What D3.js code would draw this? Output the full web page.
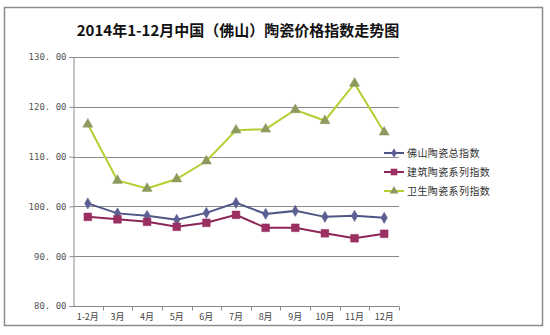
<!DOCTYPE html>
<html>
<head>
<meta charset="utf-8">
<script src="https://cdn.jsdelivr.net/npm/d3@7"></script>
<style>
  html, body { margin: 0; padding: 0; background: #fff; }
  svg { display: block; }
</style>
</head>
<body>
<svg id="chart" width="550" height="335"></svg>
<script>
// Months (Jan and Feb combined)
const months = ["1-2月", "3月", "4月", "5月", "6月", "7月", "8月", "9月", "10月", "11月", "12月"];

// Index series
const foshanTotal   = [100.6, 98.6, 98.1, 97.3, 98.7, 100.7, 98.5, 99.1, 97.9, 98.1, 97.7];
const buildingIndex = [97.9, 97.4, 96.9, 95.9, 96.7, 98.3, 95.7, 95.7, 94.6, 93.6, 94.5];
const sanitaryIndex = [116.5, 105.2, 103.6, 105.5, 109.1, 115.3, 115.5, 119.4, 117.2, 124.7, 114.9];

const seriesNames = ["佛山陶瓷总指数", "建筑陶瓷系列指数", "卫生陶瓷系列指数"];
const yTicks = [80, 90, 100, 110, 120, 130];

const cjk = "\"Noto Sans CJK SC\", \"DejaVu Sans\", sans-serif";

const series = [
  { name: seriesNames[0], values: foshanTotal,   line: "#4f5685", fill: "#5b5f93", marker: "diamond" },
  { name: seriesNames[1], values: buildingIndex, line: "#8b2655", fill: "#9a2f62", marker: "square" },
  { name: seriesNames[2], values: sanitaryIndex, line: "#b7cc30", fill: "#8c9a5e", marker: "triangle" }
];

const svg = d3.select("#chart");

// Outer frame
svg.append("rect")
  .attr("x", 4.5).attr("y", 7.5)
  .attr("width", 538).attr("height", 318)
  .attr("fill", "#fff")
  .attr("stroke", "#8c8c8c")
  .attr("stroke-width", 1.5);

// Title
svg.append("text")
  .attr("x", 238).attr("y", 36)
  .attr("text-anchor", "middle")
  .style("font-family", cjk)
  .style("font-size", "15px")
  .style("font-weight", "bold")
  .attr("fill", "#111")
  .text("2014年1-12月中国（佛山）陶瓷价格指数走势图");

const plot = { left: 73, right: 399, top: 57, bottom: 306 };

const x = d3.scaleBand().domain(months).range([plot.left, plot.right]).padding(0);
const y = d3.scaleLinear().domain([80, 130]).range([plot.bottom, plot.top]);

// Horizontal gridlines
svg.append("g")
  .selectAll("line")
  .data(yTicks.filter(t => t > 80))
  .join("line")
  .attr("x1", plot.left).attr("x2", plot.right)
  .attr("y1", d => Math.round(y(d)) + 0.5).attr("y2", d => Math.round(y(d)) + 0.5)
  .attr("stroke", "#8a8a8a")
  .attr("stroke-width", 1);

// Y axis
const yAxis = svg.append("g")
  .attr("transform", `translate(${plot.left + 0.5},0)`)
  .call(d3.axisLeft(y).tickValues(yTicks).tickSize(4).tickPadding(3)
    .tickFormat(d => d3.format(".2f")(d).replace(".", ". ")));
yAxis.select(".domain").attr("stroke", "#8a8a8a");
yAxis.selectAll(".tick line").attr("stroke", "#8a8a8a");
yAxis.selectAll(".tick text")
  .style("font-family", "\"DejaVu Sans Mono\", monospace")
  .style("font-size", "9px")
  .attr("fill", "#555");

// X axis with ticks on category boundaries
const xAxisG = svg.append("g")
  .attr("transform", `translate(0,${Math.round(plot.bottom) + 0.5})`);
xAxisG.append("line")
  .attr("x1", plot.left).attr("x2", plot.right)
  .attr("stroke", "#8a8a8a");
xAxisG.selectAll("line.tick")
  .data(months)
  .join("line")
  .attr("class", "tick")
  .attr("x1", d => Math.round(x(d) + x.bandwidth()) + 0.5)
  .attr("x2", d => Math.round(x(d) + x.bandwidth()) + 0.5)
  .attr("y1", 0).attr("y2", 4)
  .attr("stroke", "#8a8a8a");
xAxisG.selectAll("text")
  .data(months)
  .join("text")
  .attr("x", d => x(d) + x.bandwidth() / 2)
  .attr("y", 13)
  .attr("text-anchor", "middle")
  .style("font-family", cjk)
  .style("font-size", "9px")
  .attr("fill", "#444")
  .text(d => d);

// Marker shapes
function markerPath(type) {
  if (type === "diamond") return d3.symbol(d3.symbolDiamond, 36)();
  if (type === "square") return d3.symbol(d3.symbolSquare, 60)();
  return d3.symbol(d3.symbolTriangle, 44)();
}

const line = d3.line()
  .x((d, i) => x(months[i]) + x.bandwidth() / 2)
  .y(d => y(d));

series.forEach(s => {
  const g = svg.append("g");
  g.append("path")
    .datum(s.values)
    .attr("d", line)
    .attr("fill", "none")
    .attr("stroke", s.line)
    .attr("stroke-width", 2);
  g.selectAll("path.m")
    .data(s.values)
    .join("path")
    .attr("class", "m")
    .attr("d", markerPath(s.marker))
    .attr("transform", (d, i) => `translate(${x(months[i]) + x.bandwidth() / 2},${y(d)})`)
    .attr("fill", s.fill)
    .attr("stroke", s.fill)
    .attr("stroke-width", 0.5);
});

// Legend
const legend = svg.append("g");
series.forEach((s, i) => {
  const ly = 153 + i * 19;
  legend.append("line")
    .attr("x1", 384).attr("x2", 404)
    .attr("y1", ly).attr("y2", ly)
    .attr("stroke", s.line).attr("stroke-width", 2);
  legend.append("path")
    .attr("d", markerPath(s.marker))
    .attr("transform", `translate(394,${ly}) scale(0.85)`)
    .attr("fill", s.fill);
  legend.append("text")
    .attr("x", 407).attr("y", ly + 3.5)
    .style("font-family", cjk)
    .style("font-size", "10px")
    .style("letter-spacing", "0.4px")
    .attr("fill", "#333")
    .text(s.name);
});
</script>
</body>
</html>
